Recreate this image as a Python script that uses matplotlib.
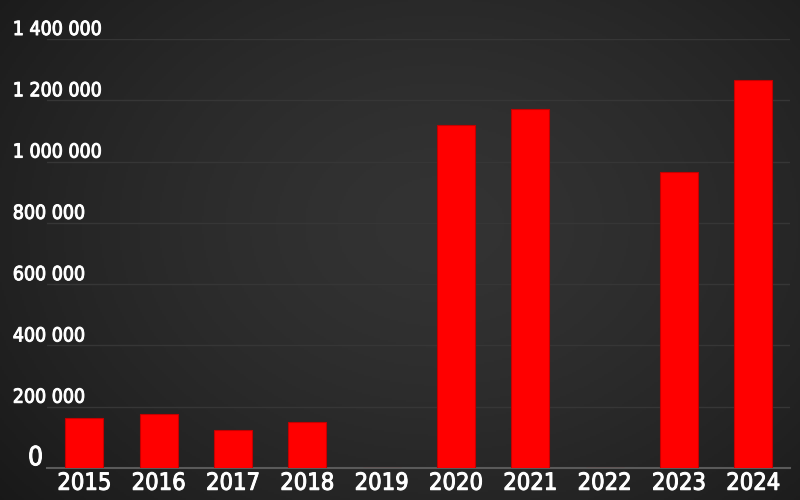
# Yearly totals, bar chart on a dark background
import numpy as np
import matplotlib.pyplot as plt
import matplotlib.transforms as mtransforms
import matplotlib.patheffects as pe

years = ['2015', '2016', '2017', '2018', '2019', '2020', '2021', '2022', '2023', '2024']
values = [163000, 175000, 125000, 150000, 0, 1120000, 1170000, 0, 967000, 1267000]
y_ticks = [0, 200000, 400000, 600000, 800000, 1000000, 1200000, 1400000]

plt.rcParams['font.family'] = ['DejaVu Sans']
plt.rcParams['font.stretch'] = 'condensed'

# thin stroke to make the condensed font look a little heavier
thick = [pe.withStroke(linewidth=0.7, foreground='white')]

fig = plt.figure(figsize=(8, 5), dpi=100)

# radial gradient background
bg = fig.add_axes([0, 0, 1, 1])
gx, gy = np.meshgrid(np.linspace(0, 1, 400), np.linspace(0, 1, 250))
r = np.sqrt(((gx - 0.55) / 0.75) ** 2 + ((gy - 0.45) / 0.9) ** 2)
shade = 0.20 - 0.11 * np.clip(r, 0, 1) ** 1.5
bg.imshow(np.dstack([shade, shade, shade]), extent=[0, 1, 0, 1], aspect='auto', origin='upper')
bg.axis('off')

ax = fig.add_axes([0.059, 0.064, 0.929, 0.858])
ax.patch.set_alpha(0)
x = np.arange(len(years))
ax.bar(x, values, width=0.51, color='#ff0000', edgecolor='#c40000', linewidth=0.8, zorder=3)

ax.set_xlim(-0.5, len(years) - 0.5)
ax.set_ylim(0, 1400000)
ax.set_yticks(y_ticks)
ax.set_yticklabels([])
ax.tick_params(axis='y', length=0)
ax.grid(axis='y', color='#363636', linewidth=1, zorder=0)
ax.set_axisbelow(True)
for s in ['top', 'right', 'left']:
    ax.spines[s].set_visible(False)
ax.spines['bottom'].set_color('#5a5a5a')
ax.spines['bottom'].set_linewidth(1.5)

ax.set_xticks(x)
ax.set_xticklabels(years, color='white', fontsize=17, fontstretch='condensed')
ax.tick_params(axis='x', length=0, pad=2)
for t in ax.get_xticklabels():
    t.set_path_effects(thick)

# y labels sit above their gridline, at the left edge of the figure
trans = mtransforms.blended_transform_factory(fig.transFigure, ax.transData)
for v in y_ticks:
    if v == 0:
        ax.text(0.035, v + 9000, '0', transform=trans, color='white', fontsize=19,
                fontstretch='condensed', ha='left', va='baseline', clip_on=False,
                path_effects=thick)
    else:
        lab = f'{v:,}'.replace(',', ' ')
        ax.text(0.016, v + 13000, lab, transform=trans, color='white', fontsize=14,
                fontstretch='condensed', ha='left', va='baseline', clip_on=False,
                path_effects=thick)

fig.savefig('out.png', dpi=100)
